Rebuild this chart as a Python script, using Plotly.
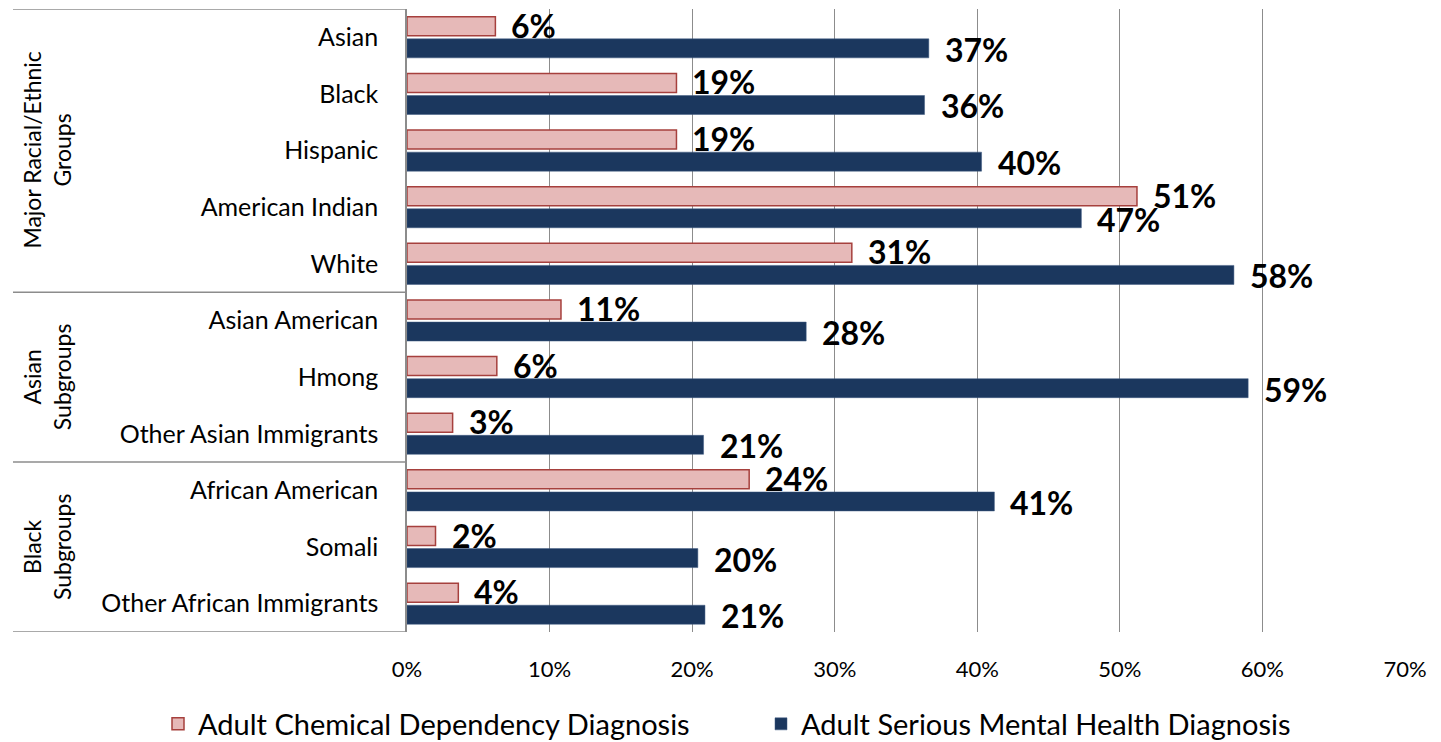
import plotly.graph_objects as go

categories = ["Asian", "Black", "Hispanic", "American Indian", "White",
              "Asian American", "Hmong", "Other Asian Immigrants",
              "African American", "Somali", "Other African Immigrants"]
chem_dep = [6.2, 18.9, 18.9, 51.2, 31.2, 10.8, 6.3, 3.2, 24.0, 2.0, 3.6]
mental = [36.6, 36.3, 40.3, 47.3, 58.0, 28.0, 59.0, 20.8, 41.2, 20.4, 20.9]
series_names = ["Adult Chemical Dependency Diagnosis", "Adult Serious Mental Health Diagnosis"]
groups = [("Major Racial/Ethnic<br>Groups", 0, 4), ("Asian<br>Subgroups", 5, 7), ("Black<br>Subgroups", 8, 10)]
x_ticks = [0, 10, 20, 30, 40, 50, 60, 70]
x_tick_text = [f"{v}%" for v in x_ticks]

PINK = "#E6B9B8"
PINK_EDGE = "#A6403D"
NAVY = "#1B375E"
GRID = "#8C8C8C"
FONT = "Lato"

# page body has an 8px margin; figure sized so it ends at the window's bottom edge
W, H = 1425, 734
OFF = 8
L = 407 - OFF
T = 9 - OFF
PW = 998
R = W - L - PW
B = H - (632 - OFF)

fig = go.Figure()
fig.add_trace(go.Bar(y=categories, x=chem_dep, orientation="h", name=series_names[0], legend="legend",
                     marker=dict(color=PINK, line=dict(color=PINK_EDGE, width=1.5))))
fig.add_trace(go.Bar(y=categories, x=mental, orientation="h", name=series_names[1], legend="legend2",
                     marker=dict(color=NAVY, line=dict(color="#3F5A80", width=0.5))))

annotations = []
for i, cat in enumerate(categories):
    for vals, ys in ((chem_dep, 12), (mental, -12)):
        annotations.append(dict(x=vals[i], y=cat, xref="x", yref="y", text=f"{round(vals[i])}%",
                                showarrow=False, xanchor="left", yanchor="middle", xshift=14, yshift=ys,
                                font=dict(family=FONT, size=32, color="black", weight="bold")))

x_left = (13 - 407) / PW
for text, a, b in groups:
    annotations.append(dict(x=(47 - 407) / PW, y=(a + b) / 2, xref="paper", yref="y", text=text,
                            textangle=-90, showarrow=False, xanchor="center", yanchor="middle",
                            font=dict(family=FONT, size=23, color="black")))

shapes = []
for yv in [-0.5, 4.5, 7.5, 10.5]:
    shapes.append(dict(type="line", xref="paper", yref="y", x0=x_left, x1=0, y0=yv, y1=yv,
                       line=dict(color=GRID, width=1.5)))

legend_common = dict(orientation="h", xref="container", yref="container", xanchor="left", yanchor="middle",
                     font=dict(family=FONT, size=29, color="black"), bgcolor="rgba(0,0,0,0)")
leg_y = 1 - (724 - OFF) / H

fig.update_layout(
    width=W, height=H, showlegend=True,
    margin=dict(l=L, r=R, t=T, b=B, autoexpand=False),
    paper_bgcolor="white", plot_bgcolor="white",
    barmode="group", bargap=0.22, bargroupgap=0.14,
    font=dict(family=FONT, color="black"),
    xaxis=dict(range=[0, 70], tickvals=x_ticks, ticktext=x_tick_text, showgrid=True, gridcolor=GRID, gridwidth=1,
               zeroline=False, showline=False, ticks="", ticklabelstandoff=22, automargin=False,
               tickfont=dict(family=FONT, size=22, color="black")),
    yaxis=dict(categoryorder="array", categoryarray=categories, range=[10.5, -0.5],
               showline=True, linecolor=GRID, linewidth=1.5, showgrid=False, ticks="", automargin=False,
               ticklabelstandoff=22, tickfont=dict(family=FONT, size=25, color="black")),
    legend=dict(x=(172 - OFF - 14) / W, y=leg_y, **legend_common),
    legend2=dict(x=(775 - OFF - 14) / W, y=leg_y, **legend_common),
    annotations=annotations, shapes=shapes,
)

fig.write_html("out.html")
